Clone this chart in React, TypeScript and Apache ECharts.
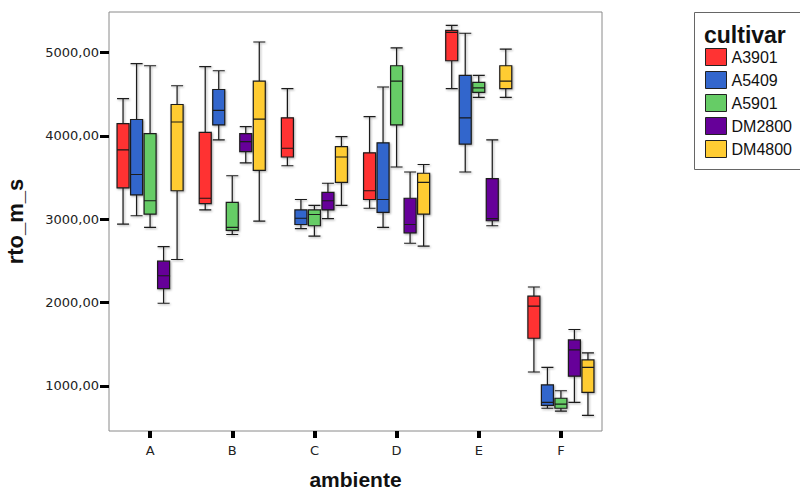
import React, { useEffect, useRef } from "react";
import * as echarts from "echarts";

const categories = ["A", "B", "C", "D", "E", "F"];
const cultivars = ["A3901", "A5409", "A5901", "DM2800", "DM4800"];
const colors = ["#ff3333", "#3366cc", "#66cc66", "#660099", "#ffcc33"];
const yTicks = [1000, 2000, 3000, 4000, 5000];

// [min, Q1, median, Q3, max] per ambiente A..F
const a3901 = [
  [2940, 3375, 3830, 4145, 4445],
  [3110, 3185, 3250, 4040, 4830],
  [3640, 3745, 3850, 4215, 4565],
  [3130, 3235, 3340, 3795, 4230],
  [4565, 4900, 5240, 5265, 5325],
  [1165, 1570, 1955, 2075, 2185],
];
const a5409 = [
  [3040, 3290, 3535, 4195, 4865],
  [3950, 4130, 4305, 4555, 4780],
  [2885, 2935, 3010, 3110, 3235],
  [2900, 3080, 3235, 3915, 4585],
  [3565, 3900, 4215, 4725, 5230],
  [730, 765, 800, 1010, 1220],
];
const a5901 = [
  [2900, 3060, 3220, 4025, 4840],
  [2815, 2865, 2900, 3200, 3520],
  [2795, 2920, 3055, 3110, 3165],
  [3625, 4130, 4655, 4840, 5055],
  [4460, 4520, 4575, 4640, 4725],
  [695, 730, 780, 850, 940],
];
const dm2800 = [
  [1990, 2165, 2320, 2495, 2670],
  [3675, 3810, 3930, 4025, 4110],
  [3005, 3110, 3220, 3320, 3430],
  [2710, 2835, 2935, 3250, 3565],
  [2920, 2980, 3005, 3485, 3950],
  [800, 1115, 1430, 1550, 1675],
];
const dm4800 = [
  [2515, 3340, 4165, 4375, 4600],
  [2975, 3585, 4200, 4655, 5125],
  [3165, 3440, 3745, 3870, 3990],
  [2675, 3060, 3440, 3550, 3655],
  [4460, 4565, 4655, 4840, 5040],
  [645, 920, 1220, 1310, 1395],
];
const seriesData = [a3901, a5409, a5901, dm2800, dm4800];

const FONT = "'Liberation Sans', Arial, sans-serif";
const TICKFONT = "'DejaVu Sans', 'Liberation Sans', sans-serif";

export default function App() {
  const ref = useRef<HTMLDivElement>(null);
  useEffect(() => {
    if (!ref.current) return;
    const chart = echarts.init(ref.current, undefined, { renderer: "svg" });
    const fmt = (v: number) => v.toFixed(2).replace(".", ",");
    chart.setOption({
      animation: false,
      backgroundColor: "#ffffff",
      grid: {
        left: 109,
        right: 198,
        top: 12,
        bottom: 62,
        show: true,
        borderColor: "#8a8a8a",
        borderWidth: 1,
        backgroundColor: "transparent",
        outerBoundsMode: "none",
        containLabel: false,
      },
      legend: {
        orient: "vertical",
        left: 705,
        top: 48,
        padding: 0,
        itemWidth: 21,
        itemHeight: 17,
        itemGap: 5,
        icon: "rect",
        data: cultivars.map((c, i) => ({
          name: c,
          itemStyle: { color: colors[i], borderColor: "#222", borderWidth: 1 },
        })),
        textStyle: { fontFamily: FONT, fontSize: 16, color: "#111" },
        selectedMode: false,
      },
      graphic: [
        {
          type: "rect",
          shape: { x: 694.5, y: 12.5, width: 130, height: 157 },
          style: { fill: "none", stroke: "#666", lineWidth: 1 },
          z: 10,
        },
        {
          type: "text",
          x: 704,
          y: 35,
          style: {
            text: "cultivar",
            font: `bold 23px ${FONT}`,
            fill: "#111",
            textVerticalAlign: "middle",
          },
          z: 10,
        },
      ],
      xAxis: {
        type: "category",
        data: categories,
        boundaryGap: true,
        name: "ambiente",
        nameLocation: "middle",
        nameGap: 38,
        nameTextStyle: { fontFamily: FONT, fontSize: 21, fontWeight: "bold", color: "#111" },
        axisLine: { show: false },
        axisTick: { show: true, alignWithLabel: true, length: 7, lineStyle: { color: "#000", width: 4 } },
        axisLabel: { fontFamily: TICKFONT, fontSize: 13, color: "#222", margin: 13 },
        splitLine: { show: false },
      },
      yAxis: {
        type: "value",
        min: 457,
        max: 5485,
        name: "rto_m_s",
        nameLocation: "middle",
        nameGap: 83,
        nameTextStyle: { fontFamily: FONT, fontSize: 22, fontWeight: "bold", color: "#111" },
        axisLine: { show: false },
        axisTick: { show: true, length: 9, customValues: yTicks, lineStyle: { color: "#000", width: 3 } },
        axisLabel: {
          fontFamily: TICKFONT,
          fontSize: 13,
          color: "#222",
          margin: 10,
          customValues: yTicks,
          formatter: (v: number) => fmt(v),
        },
        splitLine: { show: false },
      },
      series: cultivars.map((c, i) => ({
        name: c,
        type: "boxplot",
        boxWidth: [12, 12],
        data: seriesData[i],
        itemStyle: {
          color: colors[i],
          borderColor: "#1a1a1a",
          borderWidth: 1.2,
          shadowBlur: 2,
          shadowColor: "rgba(0,0,0,0.35)",
          shadowOffsetX: 1,
          shadowOffsetY: 1,
        },
        emphasis: { disabled: true },
      })),
    });
    return () => chart.dispose();
  }, []);
  return (
    <div
      ref={ref}
      style={{ position: "fixed", left: 0, top: 0, width: 800, height: 493, background: "#fff" }}
    />
  );
}
